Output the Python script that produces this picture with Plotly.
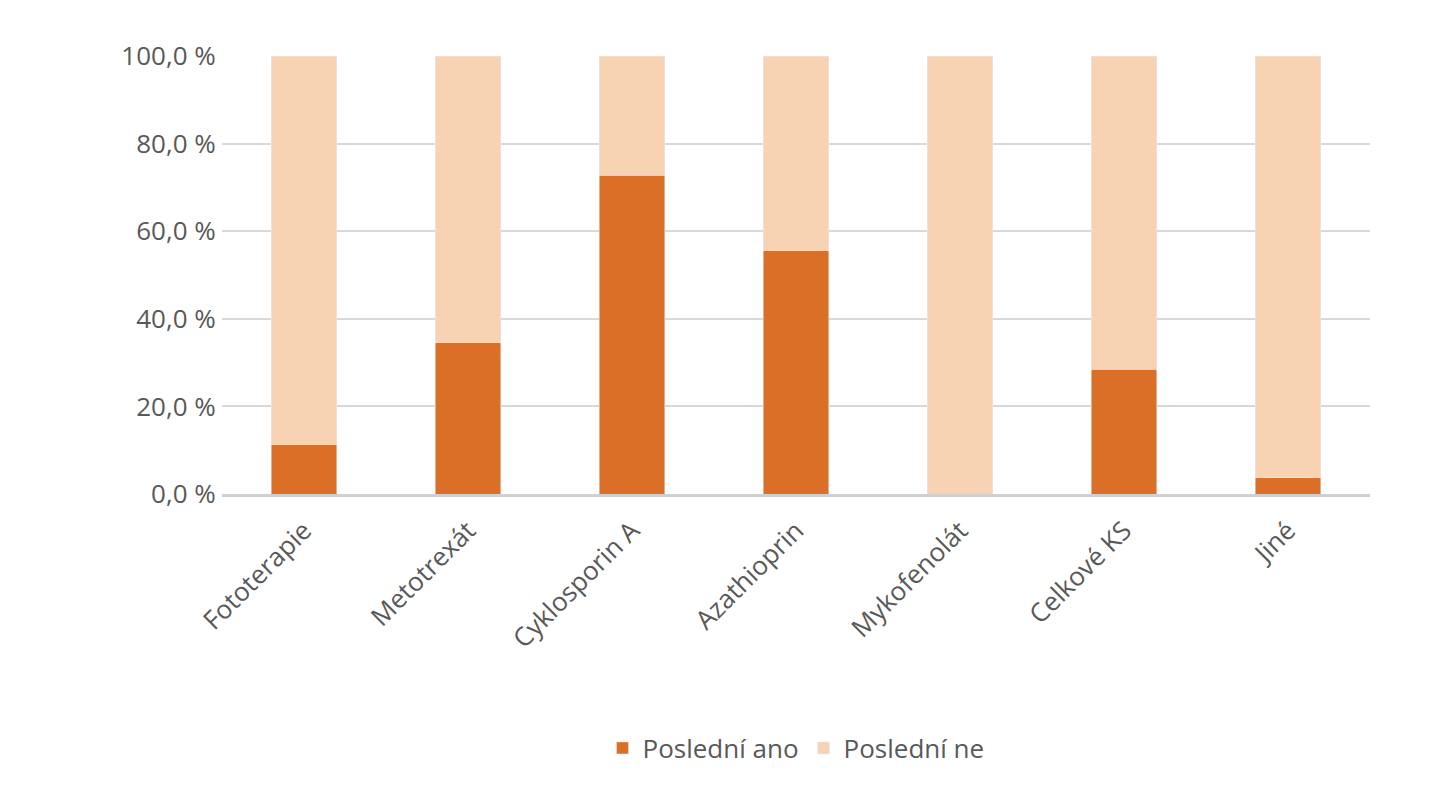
import plotly.graph_objects as go

categories = ["Fototerapie", "Metotrexát", "Cyklosporin A", "Azathioprin", "Mykofenolát", "Celkové KS", "Jiné"]
ano = [11.2, 34.5, 72.8, 55.5, 0.0, 28.5, 3.7]
ne = [100 - v for v in ano]
tickvals = [0, 20, 40, 60, 80, 100]
ticktext = ["0,0 %", "20,0 %", "40,0 %", "60,0 %", "80,0 %", "100,0 %"]

fig = go.Figure()
fig.add_bar(x=categories, y=ano, name="Poslední ano", marker_color="#DC6F28")
fig.add_bar(x=categories, y=ne, name="Poslední ne", marker_color="#F8D3B3")
fig.update_layout(
    barmode="stack", bargap=0.6,
    width=1442, height=800,
    margin=dict(l=214, r=80, t=48, b=314),
    paper_bgcolor="white", plot_bgcolor="white",
    font=dict(family="Open Sans", size=26, color="#595959"),
    legend=dict(orientation="h", x=0.5, xanchor="center", y=-0.58, yanchor="middle",
                font=dict(size=26), traceorder="normal", itemwidth=30),
)
fig.update_yaxes(range=[0, 100], tickvals=tickvals, ticktext=ticktext,
                 gridcolor="#D9D9D9", gridwidth=1.5, zeroline=False, ticklen=0,
                 ticks="outside", tickcolor="white")
fig.update_xaxes(tickangle=-45, showline=True, linecolor="#D0D0D0", linewidth=3,
                 ticks="outside", tickcolor="white", ticklen=8)
fig.write_html("out.html")
